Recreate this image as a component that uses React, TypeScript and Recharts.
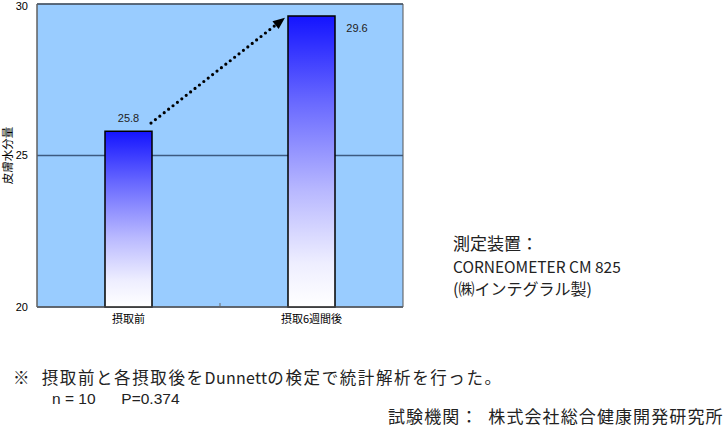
import React from 'react';
import {
  ComposedChart,
  Bar,
  XAxis,
  YAxis,
  CartesianGrid,
  ReferenceLine,
  ReferenceArea,
  LabelList,
} from 'recharts';

const categories = ['摂取前', '摂取6週間後'];
const values = [25.8, 29.6];
const positions = [0.5, 1.5];
const yTicks = [20, 25, 30];
const yAxisTitle = '皮膚水分量';
// arrow endpoints in data units (x on a 0..2 band index axis, y in value units)
const arrowFrom = { x: 0.623, y: 26.07 };
const arrowTo = { x: 1.355, y: 29.55 };

const data = categories.map((c, i) => ({ name: c, value: values[i], pos: positions[i] }));

const JP = '"Noto Sans CJK JP", "DejaVu Sans", sans-serif';
const LATIN = '"Liberation Sans", Arial, sans-serif';

const ValueLabel = (props: any) => {
  const { x, y, width, value, index } = props;
  if (index === 0) {
    return (
      <text x={x + width / 2} y={y - 9} textAnchor="middle" fontSize={11} fill="#222" fontFamily={LATIN}>
        {value}
      </text>
    );
  }
  return (
    <text x={x + width + 22} y={y + 16} textAnchor="middle" fontSize={11} fill="#222" fontFamily={LATIN}>
      {value}
    </text>
  );
};

const ArrowShape = (props: any) => {
  const { x1, y1, x2, y2 } = props;
  if ([x1, y1, x2, y2].some((v) => typeof v !== 'number' || isNaN(v))) return null;
  const ang = Math.atan2(y2 - y1, x2 - x1);
  const len = 12;
  const half = 5;
  const bx = x2 - len * Math.cos(ang);
  const by = y2 - len * Math.sin(ang);
  const px = -Math.sin(ang) * half;
  const py = Math.cos(ang) * half;
  return (
    <g>
      <line
        x1={x1}
        y1={y1}
        x2={bx}
        y2={by}
        stroke="#000"
        strokeWidth={3.2}
        strokeLinecap="round"
        strokeDasharray="0 5.6"
      />
      <polygon points={`${x2},${y2} ${bx + px},${by + py} ${bx - px},${by - py}`} fill="#000" />
    </g>
  );
};

const YTitle = (props: any) => {
  const { viewBox } = props;
  const cy = viewBox ? viewBox.y + viewBox.height / 2 : 155;
  return (
    <text x={7} y={cy} transform={`rotate(-90, 7, ${cy})`} textAnchor="middle" dominantBaseline="central" fontSize={11.5} fontFamily={JP} fill="#000">
      {yAxisTitle}
    </text>
  );
};

const txt = { position: 'absolute' as const, color: '#222', fontFamily: JP, whiteSpace: 'pre' as const };

export default function App() {
  return (
    <div style={{ position: 'absolute', left: 0, top: 0, width: 725, height: 428, background: '#fff', fontFamily: JP }}>
      <div style={{ position: 'absolute', left: 0, top: 0 }}>
        <ComposedChart width={420} height={340} data={data} margin={{ top: 4, right: 17, bottom: 3, left: 0 }}>
          <defs>
            <linearGradient id="barGrad" x1="0" y1="0" x2="0" y2="1">
              <stop offset="0%" stopColor="#1414ff" />
              <stop offset="30%" stopColor="#6a6aff" />
              <stop offset="60%" stopColor="#b8b8ff" />
              <stop offset="85%" stopColor="#eeeeff" />
              <stop offset="100%" stopColor="#ffffff" />
            </linearGradient>
          </defs>
          <CartesianGrid fill="#99ccff" vertical={false} stroke="#3d5a80" strokeWidth={1.3} yAxisId="left" />
          <XAxis
            xAxisId="cat"
            dataKey="name"
            type="category"
            axisLine={{ stroke: '#666' }}
            tickLine={false}
            tick={{ fontSize: 11, fill: '#000', fontFamily: JP }}
            tickMargin={2}
            height={30}
          />
          <XAxis xAxisId="num" dataKey="pos" type="number" domain={[0, 2]} allowDataOverflow hide />
          <YAxis
            yAxisId="left"
            domain={[20, 30]}
            ticks={yTicks}
            width={37}
            axisLine={{ stroke: '#666' }}
            tickLine={false}
            tickMargin={3}
            tick={{ fontSize: 11, fill: '#000', fontFamily: LATIN }}
            label={<YTitle />}
          />
          <ReferenceArea xAxisId="num" yAxisId="left" x1={0} x2={2} y1={20} y2={30} fill="none" stroke="#555" strokeWidth={1} fillOpacity={0} ifOverflow="visible" />
          <ReferenceLine
            xAxisId="num"
            yAxisId="left"
            segment={[{ x: 1, y: 20 }, { x: 1, y: 20.13 }]}
            stroke="#666"
            ifOverflow="visible"
          />
          <Bar
            xAxisId="cat"
            yAxisId="left"
            dataKey="value"
            barSize={47}
            fill="url(#barGrad)"
            stroke="#000"
            strokeWidth={1.5}
            isAnimationActive={false}
          >
            <LabelList dataKey="value" content={<ValueLabel />} />
          </Bar>
          <ReferenceLine
            xAxisId="num"
            yAxisId="left"
            segment={[arrowFrom, arrowTo]}
            shape={<ArrowShape />}
            ifOverflow="visible"
          />
        </ComposedChart>
      </div>
      <div style={{ ...txt, left: 453, top: 232, fontSize: 17, lineHeight: '22.5px' }}>
        <div>測定装置：</div>
        <div style={{ fontSize: 15.5 }}>CORNEOMETER CM 825</div>
        <div style={{ fontSize: 16 }}>(㈱インテグラル製)</div>
      </div>
      <div style={{ ...txt, left: 13, top: 367, fontSize: 16.5, lineHeight: '20px', letterSpacing: 1.6 }}>
        ※  摂取前と各摂取後を<span style={{ fontSize: 16, letterSpacing: 0.3 }}>Dunnett</span>の検定で統計解析を行った。
      </div>
      <div style={{ ...txt, left: 52, top: 389, fontSize: 15.5, lineHeight: '20px', fontFamily: LATIN }}>
        {'n = 10      P=0.374'}
      </div>
      <div style={{ ...txt, left: 388, top: 406, fontSize: 17, lineHeight: '20px', letterSpacing: 1.1 }}>
        試験機関：  株式会社総合健康開発研究所
      </div>
    </div>
  );
}
